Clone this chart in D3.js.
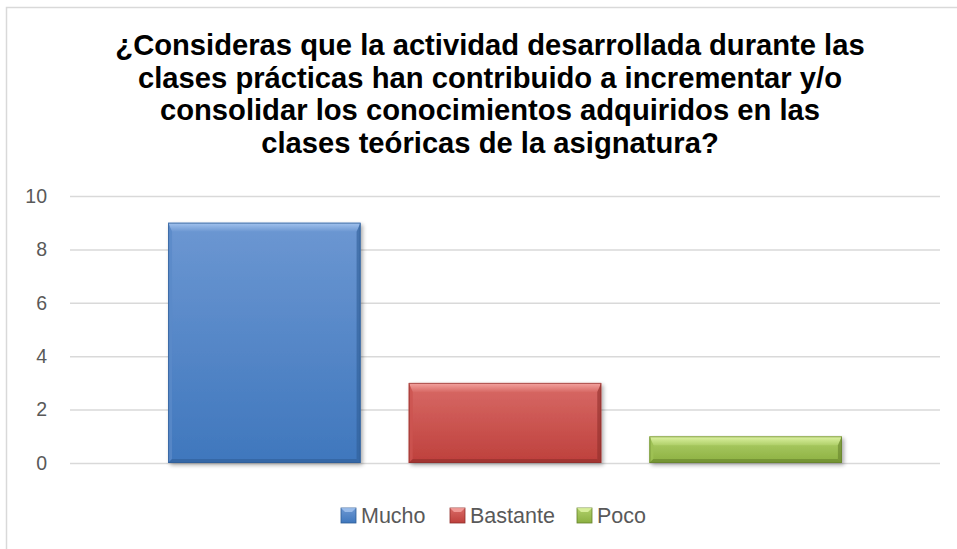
<!DOCTYPE html>
<html><head><meta charset="utf-8">
<script src="https://cdn.jsdelivr.net/npm/d3@7"></script>
<style>body{margin:0;background:#fff;}svg{display:block;}</style>
</head><body>
<script>
const categories = ["Mucho", "Bastante", "Poco"];
const values = [9, 3, 1];
const yTicks = [0, 2, 4, 6, 8, 10];
const titleLines = [
  "¿Consideras que la actividad desarrollada durante las",
  "clases prácticas han contribuido a incrementar y/o",
  "consolidar los conocimientos adquiridos en las",
  "clases teóricas de la asignatura?"
];
const palette = [
  {top:"#6c97d2", bot:"#3f77bd", light:"#a6c6f0", dark:"#2f5d96", side:"#5a89c8"},
  {top:"#d86a66", bot:"#be403c", light:"#f6a8a4", dark:"#8f2f2c", side:"#cc5450"},
  {top:"#b0d06a", bot:"#8cb041", light:"#e2f6a8", dark:"#65822c", side:"#9fc255"}
];

const W = 957, H = 549;
const svg = d3.select("body").append("svg").attr("width", W).attr("height", H);

// chart border
svg.append("path").attr("d", `M6.5,${H} V7.5 H${W}`).attr("fill","none")
  .attr("stroke","#d9d9d9").attr("stroke-width",1.5);

// title
svg.append("text").attr("x", 490).attr("y", 55)
  .attr("text-anchor","middle").attr("font-family","Liberation Sans, Arial, sans-serif")
  .attr("font-weight","bold").attr("font-size",29.2).attr("fill","#000")
  .selectAll("tspan").data(titleLines).join("tspan")
  .attr("x", 490).attr("dy",(d,i)=> i===0?0:32.7).text(d=>d);

const plotL = 70, plotR = 940, plotT = 196, plotB = 463;
const y = d3.scaleLinear().domain([0,10]).range([plotB, plotT]);
const x = d3.scaleBand().domain(categories).range([144, 866]).paddingInner(0.2).paddingOuter(0.1);

// gridlines
const yAxis = d3.axisLeft(y).tickValues(yTicks).tickSize(-(plotR-plotL)).tickPadding(23).tickFormat(d3.format("d"));
const ga = svg.append("g").attr("transform",`translate(${plotL},0)`).call(yAxis);
ga.select(".domain").remove();
ga.selectAll(".tick line").attr("stroke","#d9d9d9").attr("stroke-width",1.5);
ga.selectAll(".tick text").attr("font-family","Liberation Sans, Arial, sans-serif")
  .attr("font-size",19.5).attr("fill","#595959");

const defs = svg.append("defs");
palette.forEach((p,i)=>{
  const g = defs.append("linearGradient").attr("id","g"+i).attr("x1",0).attr("y1",0).attr("x2",0).attr("y2",1);
  g.append("stop").attr("offset","0%").attr("stop-color",p.top);
  g.append("stop").attr("offset","100%").attr("stop-color",p.bot);
  const t = defs.append("linearGradient").attr("id","t"+i).attr("x1",0).attr("y1",0).attr("x2",0).attr("y2",1);
  t.append("stop").attr("offset","0%").attr("stop-color",p.light);
  t.append("stop").attr("offset","100%").attr("stop-color",p.top);
});
const f = defs.append("filter").attr("id","sh").attr("x","-10%").attr("y","-10%").attr("width","130%").attr("height","130%");
f.append("feGaussianBlur").attr("in","SourceAlpha").attr("stdDeviation",2);
f.append("feOffset").attr("dx",2).attr("dy",2).attr("result","o");
f.append("feComponentTransfer").append("feFuncA").attr("type","linear").attr("slope",0.35);
const m = f.append("feMerge"); m.append("feMergeNode"); m.append("feMergeNode").attr("in","SourceGraphic");

const bars = svg.append("g").selectAll("g").data(categories).join("g");
bars.each(function(c,i){
  const g = d3.select(this);
  const x0 = x(c), w = x.bandwidth(), y0 = y(values[i]), y1 = y(0), h = y1-y0;
  const p = palette[i];
  const bt = Math.min(9, h/3), bs = 4;
  g.append("rect").attr("x",x0).attr("y",y0).attr("width",w).attr("height",h)
    .attr("fill",`url(#g${i})`).attr("filter","url(#sh)");
  g.append("polygon").attr("points",`${x0},${y0} ${x0+w},${y0} ${x0+w-bs},${y0+bt} ${x0+bs},${y0+bt}`)
    .attr("fill",`url(#t${i})`).attr("opacity",0.95);
  g.append("polygon").attr("points",`${x0},${y0} ${x0+bs},${y0+bt} ${x0+bs},${y1-bs} ${x0},${y1}`)
    .attr("fill",p.side).attr("opacity",0.8);
  g.append("polygon").attr("points",`${x0+w},${y0} ${x0+w},${y1} ${x0+w-bs},${y1-bs} ${x0+w-bs},${y0+bt}`)
    .attr("fill",p.dark).attr("opacity",0.6);
  g.append("polygon").attr("points",`${x0},${y1} ${x0+w},${y1} ${x0+w-bs},${y1-bs} ${x0+bs},${y1-bs}`)
    .attr("fill",p.dark).attr("opacity",0.6);
  g.append("rect").attr("x",x0+0.5).attr("y",y0+0.5).attr("width",w-1).attr("height",h-1)
    .attr("fill","none").attr("stroke",p.dark).attr("stroke-width",1).attr("opacity",0.7);
});

// legend
const legX = [341, 450, 577];
const lg = svg.append("g").selectAll("g").data(categories).join("g")
  .attr("transform",(d,i)=>`translate(${legX[i]},508)`);
lg.append("rect").attr("width",15).attr("height",15).attr("fill",(d,i)=>`url(#g${i})`)
  .attr("stroke",(d,i)=>palette[i].dark).attr("stroke-width",0.8);
lg.append("polygon").attr("points","0,0 15,0 11,4 4,4").attr("fill",(d,i)=>palette[i].light).attr("opacity",0.8);
lg.append("text").attr("x",20).attr("y",15).attr("font-family","Liberation Sans, Arial, sans-serif")
  .attr("font-size",21.5).attr("fill","#595959").text(d=>d);
</script>
</body></html>
